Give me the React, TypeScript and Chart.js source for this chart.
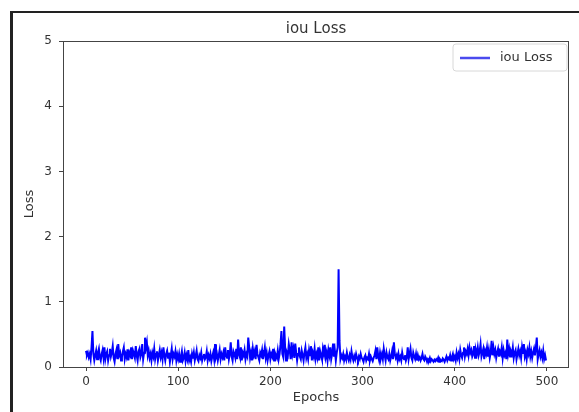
import React, { useEffect, useRef } from "react";
import { Chart, registerables } from "chart.js";

Chart.register(...registerables);

const TITLE = "iou Loss";
const X_LABEL = "Epochs";
const Y_LABEL = "Loss";
const SERIES_LABEL = "iou Loss";
const X_TICKS = [0, 100, 200, 300, 400, 500];
const Y_MIN = 0;
const Y_MAX = 5;

const LOSS_000 = [
  0.25, 0.18, 0.22, 0.15, 0.2, 0.12, 0.3, 0.55, 0.2, 0.1,
  0.18, 0.25, 0.12, 0.22, 0.28, 0.15, 0.1, 0.2, 0.26, 0.14,
  0.3, 0.12, 0.2, 0.24, 0.1, 0.18, 0.28, 0.16, 0.22, 0.32,
  0.14, 0.08, 0.2, 0.26, 0.12, 0.35, 0.18, 0.22, 0.1, 0.16,
  0.24, 0.3, 0.12, 0.2, 0.15, 0.27, 0.1, 0.22, 0.18, 0.3,
];
const LOSS_050 = [
  0.12, 0.25, 0.2, 0.14, 0.32, 0.18, 0.1, 0.24, 0.28, 0.15,
  0.2, 0.35, 0.12, 0.22, 0.45, 0.3, 0.38, 0.18, 0.25, 0.14,
  0.2, 0.1, 0.22, 0.16, 0.28, 0.12, 0.2, 0.24, 0.1, 0.18,
  0.26, 0.15, 0.22, 0.12, 0.3, 0.18, 0.1, 0.2, 0.25, 0.14,
  0.22, 0.08, 0.18, 0.28, 0.12, 0.2, 0.16, 0.24, 0.1, 0.19,
];
const LOSS_100 = [
  0.12, 0.2, 0.08, 0.16, 0.24, 0.1, 0.14, 0.22, 0.09, 0.18,
  0.12, 0.26, 0.1, 0.15, 0.08, 0.2, 0.13, 0.22, 0.1, 0.17,
  0.25, 0.12, 0.09, 0.18, 0.14, 0.22, 0.1, 0.16, 0.2, 0.12,
  0.15, 0.24, 0.1, 0.18, 0.13, 0.2, 0.09, 0.16, 0.22, 0.12,
  0.35, 0.15, 0.2, 0.1, 0.18, 0.26, 0.12, 0.2, 0.15, 0.22,
];
const LOSS_150 = [
  0.1, 0.3, 0.18, 0.14, 0.26, 0.12, 0.2, 0.38, 0.16, 0.1,
  0.24, 0.2, 0.14, 0.28, 0.12, 0.42, 0.2, 0.15, 0.3, 0.1,
  0.22, 0.18, 0.26, 0.12, 0.2, 0.16, 0.45, 0.3, 0.14, 0.22,
  0.1, 0.28, 0.18, 0.24, 0.12, 0.34, 0.2, 0.15, 0.1, 0.22,
  0.18, 0.26, 0.12, 0.2, 0.3, 0.14, 0.22, 0.1, 0.18, 0.24,
];
const LOSS_200 = [
  0.12, 0.2, 0.16, 0.28, 0.1, 0.22, 0.18, 0.14, 0.25, 0.12,
  0.2, 0.35, 0.55, 0.2, 0.15, 0.62, 0.3, 0.1, 0.22, 0.18,
  0.35, 0.26, 0.12, 0.38, 0.2, 0.28, 0.14, 0.36, 0.22, 0.1,
  0.2, 0.3, 0.16, 0.12, 0.25, 0.18, 0.1, 0.22, 0.3, 0.14,
  0.2, 0.12, 0.26, 0.18, 0.32, 0.1, 0.22, 0.16, 0.28, 0.12,
];
const LOSS_250 = [
  0.2, 0.14, 0.3, 0.1, 0.24, 0.18, 0.12, 0.28, 0.2, 0.34,
  0.15, 0.22, 0.1, 0.26, 0.18, 0.3, 0.12, 0.2, 0.36, 0.16,
  0.25, 0.1, 0.22, 0.3, 1.5, 0.4, 0.12, 0.18, 0.14, 0.2,
  0.1, 0.16, 0.12, 0.22, 0.14, 0.1, 0.18, 0.12, 0.24, 0.15,
  0.1, 0.17, 0.12, 0.2, 0.14, 0.1, 0.16, 0.12, 0.2, 0.14,
];
const LOSS_300 = [
  0.12, 0.08, 0.15, 0.18, 0.1, 0.14, 0.12, 0.2, 0.1, 0.16,
  0.12, 0.09, 0.14, 0.18, 0.25, 0.12, 0.3, 0.16, 0.1, 0.22,
  0.14, 0.2, 0.12, 0.28, 0.18, 0.1, 0.22, 0.15, 0.12, 0.2,
  0.1, 0.16, 0.24, 0.12, 0.38, 0.2, 0.14, 0.18, 0.1, 0.2,
  0.12, 0.16, 0.1, 0.22, 0.14, 0.12, 0.18, 0.1, 0.15, 0.3,
];
const LOSS_350 = [
  0.12, 0.2, 0.28, 0.14, 0.1, 0.22, 0.16, 0.12, 0.2, 0.1,
  0.18, 0.12, 0.15, 0.1, 0.14, 0.2, 0.12, 0.1, 0.16, 0.13,
  0.08, 0.12, 0.1, 0.14, 0.09, 0.12, 0.1, 0.08, 0.11, 0.09,
  0.12, 0.1, 0.14, 0.08, 0.12, 0.1, 0.09, 0.13, 0.11, 0.08,
  0.12, 0.16, 0.1, 0.14, 0.12, 0.18, 0.1, 0.15, 0.2, 0.12,
];
const LOSS_400 = [
  0.16, 0.1, 0.22, 0.14, 0.2, 0.12, 0.26, 0.18, 0.14, 0.22,
  0.3, 0.16, 0.24, 0.2, 0.28, 0.18, 0.3, 0.22, 0.26, 0.16,
  0.2, 0.32, 0.14, 0.26, 0.2, 0.3, 0.18, 0.24, 0.35, 0.16,
  0.22, 0.28, 0.12, 0.25, 0.2, 0.3, 0.16, 0.26, 0.14, 0.22,
  0.4, 0.18, 0.3, 0.2, 0.26, 0.14, 0.22, 0.28, 0.16, 0.24,
];
const LOSS_450 = [
  0.2, 0.3, 0.14, 0.26, 0.18, 0.22, 0.12, 0.42, 0.2, 0.28,
  0.16, 0.24, 0.2, 0.3, 0.14, 0.22, 0.26, 0.12, 0.2, 0.28,
  0.18, 0.24, 0.14, 0.3, 0.2, 0.35, 0.16, 0.22, 0.12, 0.26,
  0.2, 0.3, 0.16, 0.24, 0.14, 0.22, 0.28, 0.18, 0.3, 0.45,
  0.12, 0.2, 0.26, 0.16, 0.22, 0.14, 0.25, 0.12, 0.18, 0.1,
];

const LOSS = [
  ...LOSS_000, ...LOSS_050, ...LOSS_100, ...LOSS_150, ...LOSS_200,
  ...LOSS_250, ...LOSS_300, ...LOSS_350, ...LOSS_400, ...LOSS_450,
];
const EPOCHS = LOSS.map((_, i) => i);

const FONT = "'DejaVu Sans', sans-serif";
const TEXT = "#333333";
const SPINE = "#444444";
const LINE = "#0000ff";

const decorPlugin = {
  id: "decor",
  afterDraw(chart: any) {
    const { ctx, chartArea: a, width, height } = chart;
    ctx.save();
    // outer image frame
    ctx.fillStyle = "#222222";
    ctx.fillRect(10, 11, 3, height - 11);
    ctx.fillRect(10, 11, width - 10, 2);
    // plot spines
    ctx.strokeStyle = SPINE;
    ctx.lineWidth = 1;
    ctx.strokeRect(
      Math.round(a.left) + 0.5,
      Math.round(a.top) + 0.5,
      Math.round(a.right - a.left) - 1,
      Math.round(a.bottom - a.top)
    );
    const cx = (a.left + a.right) / 2;
    const cy = (a.top + a.bottom) / 2;
    ctx.fillStyle = TEXT;
    ctx.textAlign = "center";
    ctx.textBaseline = "middle";
    ctx.font = `15px ${FONT}`;
    ctx.fillText(TITLE, cx, 29);
    ctx.font = `13px ${FONT}`;
    ctx.fillText(X_LABEL, cx, 398);
    ctx.save();
    ctx.translate(30, cy);
    ctx.rotate(-Math.PI / 2);
    ctx.fillText(Y_LABEL, 0, 0);
    ctx.restore();
    // legend
    const lx = 453, ly = 44, lw = 114, lh = 27, r = 3;
    ctx.fillStyle = "rgba(255,255,255,0.85)";
    ctx.strokeStyle = "#d8d8d8";
    ctx.beginPath();
    ctx.moveTo(lx + r, ly);
    ctx.lineTo(lx + lw - r, ly);
    ctx.quadraticCurveTo(lx + lw, ly, lx + lw, ly + r);
    ctx.lineTo(lx + lw, ly + lh - r);
    ctx.quadraticCurveTo(lx + lw, ly + lh, lx + lw - r, ly + lh);
    ctx.lineTo(lx + r, ly + lh);
    ctx.quadraticCurveTo(lx, ly + lh, lx, ly + lh - r);
    ctx.lineTo(lx, ly + r);
    ctx.quadraticCurveTo(lx, ly, lx + r, ly);
    ctx.closePath();
    ctx.fill();
    ctx.stroke();
    ctx.strokeStyle = "#4a4aee";
    ctx.lineWidth = 2.5;
    ctx.beginPath();
    ctx.moveTo(460, 58);
    ctx.lineTo(490, 58);
    ctx.stroke();
    ctx.fillStyle = TEXT;
    ctx.textAlign = "left";
    ctx.font = `13px ${FONT}`;
    ctx.fillText(SERIES_LABEL, 500, 58);
    ctx.restore();
  },
};

export default function App() {
  const ref = useRef<HTMLCanvasElement | null>(null);

  useEffect(() => {
    if (!ref.current) return;
    const chart = new Chart(ref.current, {
      type: "line",
      data: {
        datasets: [
          {
            label: SERIES_LABEL,
            data: EPOCHS.map((e, i) => ({ x: e, y: LOSS[i] })),
            borderColor: LINE,
            backgroundColor: LINE,
            borderWidth: 2,
            pointRadius: 0,
            tension: 0,
            fill: false,
          },
        ],
      },
      options: {
        animation: false,
        responsive: false,
        devicePixelRatio: 1,
        layout: { padding: { left: 13, right: 10, top: 41, bottom: 0 } },
        plugins: {
          legend: { display: false },
          title: { display: false },
          tooltip: { enabled: false },
        },
        scales: {
          x: {
            type: "linear",
            min: -24.95,
            max: 523.95,
            afterBuildTicks: (scale: any) => {
              scale.ticks = X_TICKS.map((v) => ({ value: v }));
            },
            afterFit: (scale: any) => {
              scale.height = 45;
            },
            grid: {
              drawOnChartArea: false,
              drawTicks: true,
              tickLength: 4,
              color: SPINE,
            },
            border: { display: false },
            ticks: {
              padding: 4,
              color: TEXT,
              font: { family: FONT, size: 12 },
              maxRotation: 0,
              autoSkip: false,
            },
          },
          y: {
            type: "linear",
            min: Y_MIN,
            max: Y_MAX,
            afterFit: (scale: any) => {
              scale.width = 50;
            },
            grid: {
              drawOnChartArea: false,
              drawTicks: true,
              tickLength: 4,
              color: SPINE,
            },
            border: { display: false },
            ticks: {
              stepSize: 1,
              padding: 7,
              color: TEXT,
              font: { family: FONT, size: 12 },
            },
          },
        },
      },
      plugins: [decorPlugin],
    });
    return () => chart.destroy();
  }, []);

  return (
    <div style={{ position: "fixed", left: 0, top: 0, width: 579, height: 412, background: "#fff" }}>
      <canvas ref={ref} width={579} height={412} style={{ display: "block" }} />
    </div>
  );
}
